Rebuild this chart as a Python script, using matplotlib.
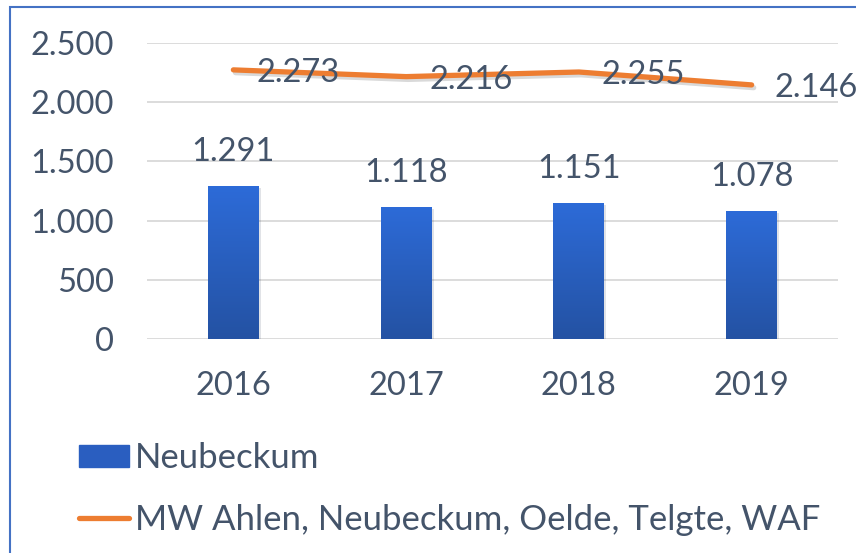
import matplotlib
matplotlib.use("Agg")
import matplotlib.pyplot as plt
import numpy as np
from matplotlib.patches import Rectangle
from matplotlib.lines import Line2D
from matplotlib.colors import LinearSegmentedColormap
import matplotlib.patheffects as pe

years = ["2016", "2017", "2018", "2019"]
neubeckum = [1291, 1118, 1151, 1078]
mw = [2273, 2216, 2255, 2146]
yticks = [0, 500, 1000, 1500, 2000, 2500]
bar_label = "Neubeckum"
line_label = "MW Ahlen, Neubeckum, Oelde, Telgte, WAF"

TXT = "#44546A"
FONT = "Lato"
FS = 23.5

def de(v):
    return f"{v:,.0f}".replace(",", ".")

plt.rcParams['font.family'] = [FONT, 'DejaVu Sans']

fig = plt.figure(figsize=(8.56, 5.53), dpi=100)
W, H = 856, 553
ax = fig.add_axes([147 / W, 1 - 339 / H, (838 - 147) / W, (339 - 43) / H])

x = np.arange(len(years))
bars = ax.bar(x, neubeckum, width=0.295, color="#2A5EC0", zorder=3,
              path_effects=[pe.SimplePatchShadow(offset=(1.5, -1.5), alpha=0.12), pe.Normal()])

cmap = LinearSegmentedColormap.from_list("g", ["#2452A3", "#2D6BD8"])
grad = np.linspace(0, 1, 256).reshape(-1, 1)
for b in bars:
    x0, y0 = b.get_x(), b.get_y()
    im = ax.imshow(grad, cmap=cmap, origin="lower", aspect="auto",
                   extent=(x0, x0 + b.get_width(), y0, y0 + b.get_height()), zorder=3.1)
    im.set_clip_path(b)

ax.plot(x, mw, color="#ED7D31", lw=3.8, solid_capstyle="round", solid_joinstyle="round", zorder=4,
        path_effects=[pe.SimpleLineShadow(offset=(1.5, -2), alpha=0.15), pe.Normal()])

for xi, v in zip(x, neubeckum):
    ax.annotate(de(v), (xi, v), xytext=(0, 34), textcoords="offset pixels",
                ha="center", va="center", fontsize=FS, color=TXT, zorder=5)
for xi, v in zip(x, mw):
    ax.annotate(de(v), (xi, v), xytext=(23, -3), textcoords="offset pixels",
                ha="left", va="center", fontsize=FS, color=TXT, zorder=5, annotation_clip=False)

ax.set_xlim(-0.5, len(years) - 0.5)
ax.set_ylim(0, 2500)
ax.set_yticks(yticks)
ax.set_yticklabels([de(v) for v in yticks])
ax.set_xticks(x)
ax.set_xticklabels(years)
ax.tick_params(axis="both", length=0, labelsize=FS, colors=TXT)
ax.tick_params(axis="y", pad=24)
ax.tick_params(axis="x", pad=23)
for s in ax.spines.values():
    s.set_visible(False)
ax.grid(axis="y", color="#D9D9D9", lw=1.3, zorder=0)
ax.set_axisbelow(True)

handles = [Rectangle((0, 0), 1, 1, color="#2A5EC0"),
           Line2D([0], [0], color="#ED7D31", lw=3.8, solid_capstyle="round")]
leg = fig.legend(handles, [bar_label, line_label], loc="upper left",
                 bbox_to_anchor=(79 / W, 1 - 442 / H), frameon=False, fontsize=25,
                 handlelength=1.45, handleheight=0.62, handletextpad=0.17, labelspacing=0.85,
                 borderaxespad=0, borderpad=0)
for t in leg.get_texts():
    t.set_color(TXT)

fig.patches.append(Rectangle((10 / W, -0.5), 2, 0.5 + 1 - 7 / H, transform=fig.transFigure,
                             fill=False, edgecolor="#4472C4", lw=1.5))

fig.savefig("out.png", dpi=100)
